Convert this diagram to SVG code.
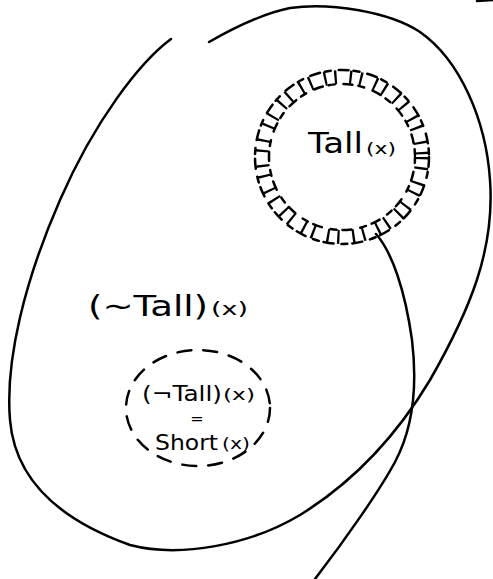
<svg xmlns="http://www.w3.org/2000/svg" width="493" height="579" viewBox="0 0 493 579">
<style>
.ln{fill:none;stroke:#000;stroke-width:2.5;stroke-linecap:round;stroke-linejoin:round}
.t{font-family:"DejaVu Sans","Liberation Sans",sans-serif;fill:#000}
</style>
<rect width="493" height="579" fill="#fff"/>
<g id="outer-region">
<path class="ln" d="M171,39 C140,62 95,120 60,200 C25,280 5,360 10,420 C15,480 60,520 130,545 C180,558 250,545 300,515 C360,478 400,430 430,380 C470,310 495,250 490,180 C486,120 460,60 420,32 C390,12 330,2 290,8 C260,14 230,30 209,42"/>
<path class="ln" d="M477,1 L493,0" stroke-width="3"/>
<text class="t" x="88" y="316" font-size="28" textLength="120" lengthAdjust="spacingAndGlyphs">(~Tall)</text>
<text class="t" x="211" y="315" font-size="18" textLength="37" lengthAdjust="spacingAndGlyphs">(x)</text>
</g>
<g id="tall-set">
<circle class="ln" cx="342" cy="157" r="87" stroke-dasharray="10 5 6 8" stroke-width="2.2"/>
<circle class="ln" cx="342" cy="157" r="73" stroke-dasharray="6 9 9 6" stroke-width="2.2"/>
<circle cx="342" cy="157" r="80" fill="none" stroke="#000" stroke-width="14" stroke-dasharray="2.3 8 2.3 13"/>
<text class="t" x="308" y="153" font-size="28" textLength="55" lengthAdjust="spacingAndGlyphs">Tall</text>
<text class="t" x="366" y="154" font-size="15" textLength="30" lengthAdjust="spacingAndGlyphs">(x)</text>
</g>
<g id="short-set">
<ellipse class="ln" cx="198" cy="408" rx="72" ry="58" stroke-dasharray="14 12"/>
<text class="t" x="142" y="401" font-size="22" textLength="80" lengthAdjust="spacingAndGlyphs">(¬Tall)</text>
<text class="t" x="223" y="400" font-size="16" textLength="32" lengthAdjust="spacingAndGlyphs">(x)</text>
<text class="t" x="197" y="424" font-size="16" text-anchor="middle">=</text>
<text class="t" x="155" y="450" font-size="22" textLength="63" lengthAdjust="spacingAndGlyphs">Short</text>
<text class="t" x="222" y="449" font-size="16" textLength="28" lengthAdjust="spacingAndGlyphs">(x)</text>
</g>
<g id="connectors">
<path class="ln" d="M376,234 C392,252 405,290 412,340 C418,390 412,430 395,462 C380,490 345,540 315,579"/>
</g>
</svg>
